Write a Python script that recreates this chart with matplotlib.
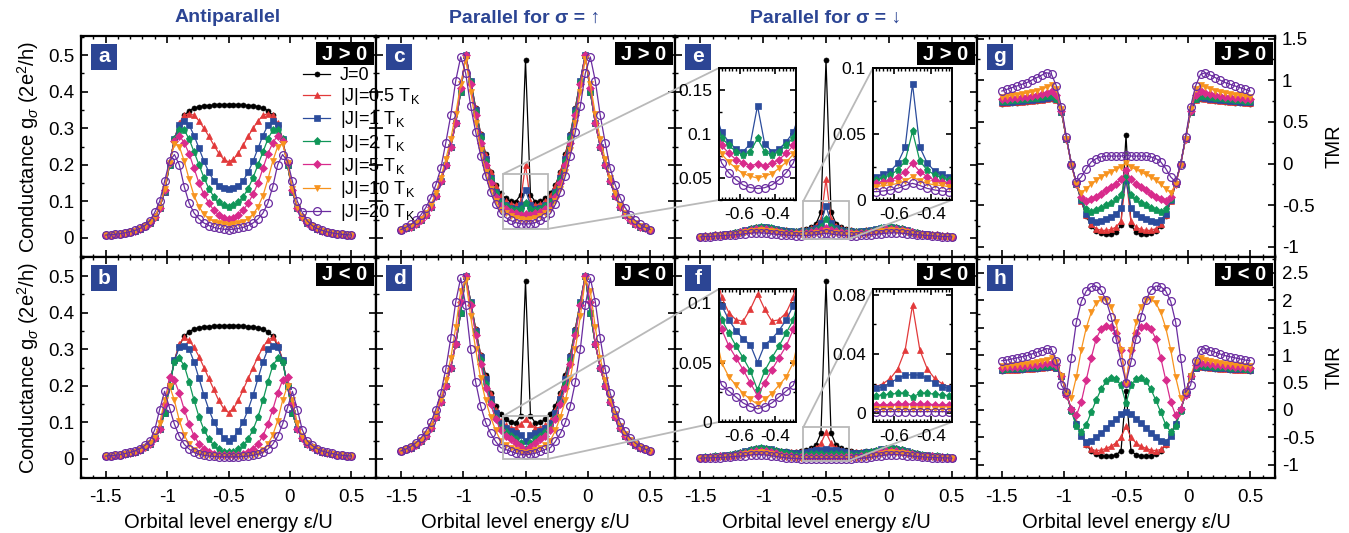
import matplotlib
matplotlib.use('Agg')
import matplotlib.pyplot as plt
from matplotlib.ticker import MultipleLocator, FuncFormatter
from matplotlib.patches import Rectangle, ConnectionPatch

plt.rcParams['font.family'] = ['Liberation Sans', 'DejaVu Sans']
plt.rcParams['mathtext.fontset'] = 'custom'
plt.rcParams['mathtext.rm'] = 'Liberation Sans'
plt.rcParams['mathtext.it'] = 'Liberation Sans:italic'
plt.rcParams['mathtext.bf'] = 'Liberation Sans:bold'

# orbital level energy eps/U
eps = [-1.50, -1.46, -1.42, -1.38, -1.34, -1.30, -1.26, -1.22, -1.18, -1.14, -1.10, -1.06, -1.02,
       -0.98, -0.94, -0.90, -0.86, -0.82, -0.78, -0.74, -0.70, -0.66, -0.62, -0.58, -0.54, -0.50,
       -0.46, -0.42, -0.38, -0.34, -0.30, -0.26, -0.22, -0.18, -0.14, -0.10, -0.06, -0.02,
       0.02, 0.06, 0.10, 0.14, 0.18, 0.22, 0.26, 0.30, 0.34, 0.38, 0.42, 0.46, 0.50]

labels = ['J=0', '|J|=0.5 T$_\\mathrm{K}$', '|J|=1 T$_\\mathrm{K}$', '|J|=2 T$_\\mathrm{K}$',
          '|J|=5 T$_\\mathrm{K}$', '|J|=10 T$_\\mathrm{K}$', '|J|=20 T$_\\mathrm{K}$']

# ---- antiparallel conductance (panels a, b) ----
ap_j0 = [0.008, 0.009, 0.010, 0.012, 0.014, 0.017, 0.020, 0.025, 0.032, 0.042, 0.057, 0.083, 0.125,
         0.200, 0.270, 0.310, 0.335, 0.348, 0.355, 0.359, 0.361, 0.362, 0.363, 0.364, 0.364, 0.364,
         0.364, 0.364, 0.363, 0.362, 0.361, 0.359, 0.355, 0.348, 0.335, 0.310, 0.270, 0.200,
         0.125, 0.083, 0.057, 0.042, 0.032, 0.025, 0.020, 0.017, 0.014, 0.012, 0.010, 0.009, 0.008]
ap_pos_05 = [0.008, 0.009, 0.010, 0.012, 0.014, 0.017, 0.020, 0.025, 0.032, 0.042, 0.057, 0.083, 0.126,
             0.200, 0.270, 0.315, 0.335, 0.340, 0.335, 0.320, 0.300, 0.278, 0.254, 0.232, 0.215, 0.208,
             0.215, 0.232, 0.254, 0.278, 0.300, 0.320, 0.335, 0.340, 0.335, 0.315, 0.270, 0.200,
             0.126, 0.083, 0.057, 0.042, 0.032, 0.025, 0.020, 0.017, 0.014, 0.012, 0.010, 0.009, 0.008]
ap_pos_1 = [0.008, 0.009, 0.010, 0.012, 0.014, 0.017, 0.020, 0.025, 0.032, 0.042, 0.057, 0.083, 0.127,
            0.200, 0.270, 0.310, 0.320, 0.308, 0.280, 0.245, 0.210, 0.180, 0.157, 0.143, 0.136, 0.133,
            0.136, 0.143, 0.157, 0.180, 0.210, 0.245, 0.280, 0.308, 0.320, 0.310, 0.270, 0.200,
            0.127, 0.083, 0.057, 0.042, 0.032, 0.025, 0.020, 0.017, 0.014, 0.012, 0.010, 0.009, 0.008]
ap_pos_2 = [0.008, 0.009, 0.010, 0.012, 0.014, 0.017, 0.020, 0.025, 0.032, 0.042, 0.057, 0.083, 0.128,
            0.200, 0.270, 0.295, 0.295, 0.270, 0.235, 0.200, 0.165, 0.135, 0.113, 0.098, 0.089, 0.086,
            0.089, 0.098, 0.113, 0.135, 0.165, 0.200, 0.235, 0.270, 0.295, 0.295, 0.270, 0.200,
            0.128, 0.083, 0.057, 0.042, 0.032, 0.025, 0.020, 0.017, 0.014, 0.012, 0.010, 0.009, 0.008]
ap_pos_5 = [0.008, 0.009, 0.010, 0.012, 0.014, 0.017, 0.020, 0.025, 0.032, 0.042, 0.057, 0.083, 0.130,
            0.205, 0.265, 0.280, 0.260, 0.230, 0.190, 0.150, 0.120, 0.095, 0.076, 0.063, 0.054, 0.051,
            0.054, 0.063, 0.076, 0.095, 0.120, 0.150, 0.190, 0.230, 0.260, 0.280, 0.265, 0.205,
            0.130, 0.083, 0.057, 0.042, 0.032, 0.025, 0.020, 0.017, 0.014, 0.012, 0.010, 0.009, 0.008]
ap_pos_10 = [0.008, 0.009, 0.010, 0.012, 0.014, 0.017, 0.020, 0.025, 0.032, 0.043, 0.058, 0.085, 0.135,
             0.205, 0.258, 0.250, 0.210, 0.160, 0.115, 0.085, 0.065, 0.053, 0.045, 0.040, 0.037, 0.036,
             0.037, 0.040, 0.045, 0.053, 0.065, 0.085, 0.115, 0.160, 0.210, 0.250, 0.258, 0.205,
             0.135, 0.085, 0.058, 0.043, 0.032, 0.025, 0.020, 0.017, 0.014, 0.012, 0.010, 0.009, 0.008]
ap_pos_20 = [0.008, 0.009, 0.010, 0.012, 0.014, 0.017, 0.021, 0.026, 0.034, 0.047, 0.070, 0.100, 0.155,
             0.210, 0.228, 0.200, 0.140, 0.095, 0.068, 0.052, 0.041, 0.034, 0.029, 0.026, 0.024, 0.023,
             0.024, 0.026, 0.029, 0.034, 0.041, 0.052, 0.068, 0.095, 0.140, 0.200, 0.228, 0.210,
             0.155, 0.100, 0.070, 0.047, 0.034, 0.026, 0.021, 0.017, 0.014, 0.012, 0.010, 0.009, 0.008]
ap_neg_05 = [0.008, 0.009, 0.010, 0.012, 0.014, 0.017, 0.020, 0.025, 0.032, 0.042, 0.057, 0.083, 0.126,
             0.200, 0.270, 0.315, 0.332, 0.325, 0.305, 0.280, 0.250, 0.220, 0.190, 0.160, 0.138, 0.127,
             0.138, 0.160, 0.190, 0.220, 0.250, 0.280, 0.305, 0.325, 0.332, 0.315, 0.270, 0.200,
             0.126, 0.083, 0.057, 0.042, 0.032, 0.025, 0.020, 0.017, 0.014, 0.012, 0.010, 0.009, 0.008]
ap_neg_1 = [0.008, 0.009, 0.010, 0.012, 0.014, 0.017, 0.020, 0.025, 0.032, 0.042, 0.057, 0.083, 0.127,
            0.200, 0.270, 0.305, 0.310, 0.300, 0.265, 0.220, 0.175, 0.135, 0.102, 0.077, 0.058, 0.048,
            0.058, 0.077, 0.102, 0.135, 0.175, 0.220, 0.265, 0.300, 0.310, 0.305, 0.270, 0.200,
            0.127, 0.083, 0.057, 0.042, 0.032, 0.025, 0.020, 0.017, 0.014, 0.012, 0.010, 0.009, 0.008]
ap_neg_2 = [0.008, 0.009, 0.010, 0.012, 0.014, 0.017, 0.020, 0.025, 0.032, 0.042, 0.057, 0.083, 0.125,
            0.200, 0.265, 0.275, 0.255, 0.210, 0.160, 0.115, 0.080, 0.055, 0.038, 0.026, 0.020, 0.018,
            0.020, 0.026, 0.038, 0.055, 0.080, 0.115, 0.160, 0.210, 0.255, 0.275, 0.265, 0.200,
            0.125, 0.083, 0.057, 0.042, 0.032, 0.025, 0.020, 0.017, 0.014, 0.012, 0.010, 0.009, 0.008]
ap_neg_5 = [0.008, 0.009, 0.010, 0.012, 0.014, 0.017, 0.020, 0.025, 0.032, 0.042, 0.057, 0.083, 0.150,
            0.225, 0.215, 0.180, 0.135, 0.095, 0.063, 0.042, 0.028, 0.019, 0.014, 0.012, 0.011, 0.010,
            0.011, 0.012, 0.014, 0.019, 0.028, 0.042, 0.063, 0.095, 0.135, 0.180, 0.215, 0.225,
            0.150, 0.083, 0.057, 0.042, 0.032, 0.025, 0.020, 0.017, 0.014, 0.012, 0.010, 0.009, 0.008]
ap_neg_10 = [0.008, 0.009, 0.010, 0.012, 0.014, 0.017, 0.020, 0.025, 0.033, 0.044, 0.062, 0.098, 0.160,
             0.200, 0.160, 0.105, 0.065, 0.040, 0.025, 0.017, 0.012, 0.010, 0.009, 0.008, 0.007, 0.007,
             0.007, 0.008, 0.009, 0.010, 0.012, 0.017, 0.025, 0.040, 0.065, 0.105, 0.160, 0.200,
             0.160, 0.098, 0.062, 0.044, 0.033, 0.025, 0.020, 0.017, 0.014, 0.012, 0.010, 0.009, 0.008]
ap_neg_20 = [0.008, 0.009, 0.010, 0.012, 0.015, 0.018, 0.022, 0.028, 0.037, 0.050, 0.080, 0.135, 0.185,
             0.140, 0.095, 0.062, 0.040, 0.027, 0.018, 0.013, 0.010, 0.008, 0.007, 0.006, 0.006, 0.006,
             0.006, 0.006, 0.007, 0.008, 0.010, 0.013, 0.018, 0.027, 0.040, 0.062, 0.095, 0.140,
             0.185, 0.135, 0.080, 0.050, 0.037, 0.028, 0.022, 0.018, 0.015, 0.012, 0.010, 0.009, 0.008]

# ---- parallel, spin up (panels c, d) ----
pu_j0 = [0.022, 0.026, 0.031, 0.038, 0.048, 0.063, 0.085, 0.115, 0.155, 0.200, 0.250, 0.315, 0.400,
         0.500, 0.430, 0.355, 0.285, 0.230, 0.180, 0.145, 0.122, 0.108, 0.100, 0.098, 0.118, 0.486,
         0.118, 0.098, 0.100, 0.108, 0.122, 0.145, 0.180, 0.230, 0.285, 0.355, 0.430, 0.500,
         0.400, 0.315, 0.250, 0.200, 0.155, 0.115, 0.085, 0.063, 0.048, 0.038, 0.031, 0.026, 0.022]
pu_pos_05 = [0.022, 0.026, 0.031, 0.038, 0.048, 0.063, 0.085, 0.115, 0.155, 0.200, 0.250, 0.315, 0.400,
             0.500, 0.430, 0.355, 0.283, 0.227, 0.180, 0.142, 0.115, 0.100, 0.092, 0.089, 0.100, 0.200,
             0.100, 0.089, 0.092, 0.100, 0.115, 0.142, 0.180, 0.227, 0.283, 0.355, 0.430, 0.500,
             0.400, 0.315, 0.250, 0.200, 0.155, 0.115, 0.085, 0.063, 0.048, 0.038, 0.031, 0.026, 0.022]
pu_pos_1 = [0.022, 0.026, 0.031, 0.038, 0.048, 0.063, 0.085, 0.115, 0.155, 0.200, 0.250, 0.315, 0.400,
            0.500, 0.430, 0.350, 0.280, 0.215, 0.165, 0.127, 0.102, 0.091, 0.083, 0.080, 0.089, 0.132,
            0.089, 0.080, 0.083, 0.091, 0.102, 0.127, 0.165, 0.215, 0.280, 0.350, 0.430, 0.500,
            0.400, 0.315, 0.250, 0.200, 0.155, 0.115, 0.085, 0.063, 0.048, 0.038, 0.031, 0.026, 0.022]
pu_pos_2 = [0.022, 0.026, 0.031, 0.038, 0.048, 0.063, 0.085, 0.115, 0.155, 0.200, 0.250, 0.315, 0.400,
            0.500, 0.425, 0.345, 0.272, 0.210, 0.160, 0.122, 0.096, 0.087, 0.080, 0.076, 0.080, 0.095,
            0.080, 0.076, 0.080, 0.087, 0.096, 0.122, 0.160, 0.210, 0.272, 0.345, 0.425, 0.500,
            0.400, 0.315, 0.250, 0.200, 0.155, 0.115, 0.085, 0.063, 0.048, 0.038, 0.031, 0.026, 0.022]
pu_pos_5 = [0.022, 0.026, 0.031, 0.038, 0.048, 0.063, 0.085, 0.115, 0.155, 0.200, 0.250, 0.315, 0.410,
            0.500, 0.420, 0.335, 0.260, 0.200, 0.150, 0.113, 0.087, 0.078, 0.071, 0.067, 0.064, 0.066,
            0.064, 0.067, 0.071, 0.078, 0.087, 0.113, 0.150, 0.200, 0.260, 0.335, 0.420, 0.500,
            0.410, 0.315, 0.250, 0.200, 0.155, 0.115, 0.085, 0.063, 0.048, 0.038, 0.031, 0.026, 0.022]
pu_pos_10 = [0.022, 0.026, 0.032, 0.040, 0.051, 0.067, 0.090, 0.123, 0.165, 0.215, 0.270, 0.340, 0.420,
             0.490, 0.400, 0.315, 0.240, 0.180, 0.135, 0.100, 0.077, 0.068, 0.061, 0.055, 0.052, 0.050,
             0.052, 0.055, 0.061, 0.068, 0.077, 0.100, 0.135, 0.180, 0.240, 0.315, 0.400, 0.490,
             0.420, 0.340, 0.270, 0.215, 0.165, 0.123, 0.090, 0.067, 0.051, 0.040, 0.032, 0.026, 0.022]
pu_pos_20 = [0.023, 0.029, 0.037, 0.048, 0.063, 0.083, 0.110, 0.145, 0.190, 0.260, 0.335, 0.430, 0.495,
             0.450, 0.360, 0.290, 0.225, 0.170, 0.125, 0.092, 0.067, 0.056, 0.048, 0.042, 0.039, 0.038,
             0.039, 0.042, 0.048, 0.056, 0.067, 0.092, 0.125, 0.170, 0.225, 0.290, 0.360, 0.450,
             0.495, 0.430, 0.335, 0.260, 0.190, 0.145, 0.110, 0.083, 0.063, 0.048, 0.037, 0.029, 0.023]
pu_neg_05 = [0.022, 0.026, 0.031, 0.038, 0.048, 0.063, 0.085, 0.115, 0.155, 0.200, 0.250, 0.315, 0.400,
             0.500, 0.430, 0.355, 0.283, 0.225, 0.178, 0.133, 0.105, 0.092, 0.086, 0.085, 0.095, 0.108,
             0.095, 0.085, 0.086, 0.092, 0.105, 0.133, 0.178, 0.225, 0.283, 0.355, 0.430, 0.500,
             0.400, 0.315, 0.250, 0.200, 0.155, 0.115, 0.085, 0.063, 0.048, 0.038, 0.031, 0.026, 0.022]
pu_neg_1 = [0.022, 0.026, 0.031, 0.038, 0.048, 0.063, 0.085, 0.115, 0.155, 0.200, 0.250, 0.315, 0.400,
            0.500, 0.430, 0.350, 0.278, 0.218, 0.165, 0.125, 0.098, 0.086, 0.077, 0.070, 0.065, 0.050,
            0.065, 0.070, 0.077, 0.086, 0.098, 0.125, 0.165, 0.218, 0.278, 0.350, 0.430, 0.500,
            0.400, 0.315, 0.250, 0.200, 0.155, 0.115, 0.085, 0.063, 0.048, 0.038, 0.031, 0.026, 0.022]
pu_neg_2 = [0.022, 0.026, 0.031, 0.038, 0.048, 0.063, 0.085, 0.115, 0.155, 0.200, 0.250, 0.315, 0.400,
            0.500, 0.425, 0.345, 0.270, 0.205, 0.152, 0.113, 0.086, 0.075, 0.064, 0.054, 0.043, 0.027,
            0.043, 0.054, 0.064, 0.075, 0.086, 0.113, 0.152, 0.205, 0.270, 0.345, 0.425, 0.500,
            0.400, 0.315, 0.250, 0.200, 0.155, 0.115, 0.085, 0.063, 0.048, 0.038, 0.031, 0.026, 0.022]
pu_neg_5 = [0.022, 0.026, 0.031, 0.038, 0.048, 0.063, 0.085, 0.115, 0.155, 0.200, 0.250, 0.315, 0.430,
            0.500, 0.420, 0.340, 0.260, 0.195, 0.150, 0.110, 0.078, 0.064, 0.054, 0.044, 0.033, 0.022,
            0.033, 0.044, 0.054, 0.064, 0.078, 0.110, 0.150, 0.195, 0.260, 0.340, 0.420, 0.500,
            0.430, 0.315, 0.250, 0.200, 0.155, 0.115, 0.085, 0.063, 0.048, 0.038, 0.031, 0.026, 0.022]
pu_neg_10 = [0.022, 0.026, 0.032, 0.040, 0.051, 0.067, 0.090, 0.123, 0.165, 0.215, 0.275, 0.360, 0.460,
             0.490, 0.390, 0.300, 0.220, 0.160, 0.115, 0.078, 0.050, 0.038, 0.031, 0.024, 0.019, 0.015,
             0.019, 0.024, 0.031, 0.038, 0.050, 0.078, 0.115, 0.160, 0.220, 0.300, 0.390, 0.490,
             0.460, 0.360, 0.275, 0.215, 0.165, 0.123, 0.090, 0.067, 0.051, 0.040, 0.032, 0.026, 0.022]
pu_neg_20 = [0.022, 0.027, 0.034, 0.044, 0.057, 0.076, 0.100, 0.135, 0.180, 0.245, 0.330, 0.430, 0.495,
             0.420, 0.300, 0.210, 0.145, 0.100, 0.070, 0.048, 0.031, 0.026, 0.021, 0.016, 0.013, 0.011,
             0.013, 0.016, 0.021, 0.026, 0.031, 0.048, 0.070, 0.100, 0.145, 0.210, 0.300, 0.420,
             0.495, 0.430, 0.330, 0.245, 0.180, 0.135, 0.100, 0.076, 0.057, 0.044, 0.034, 0.027, 0.022]

# ---- parallel, spin down (panels e, f) ----
pd_j0 = [0.004, 0.005, 0.006, 0.007, 0.008, 0.010, 0.012, 0.015, 0.018, 0.022, 0.026, 0.029, 0.031,
         0.030, 0.028, 0.025, 0.023, 0.021, 0.020, 0.020, 0.021, 0.024, 0.029, 0.038, 0.071, 0.486,
         0.071, 0.038, 0.029, 0.024, 0.021, 0.020, 0.020, 0.021, 0.023, 0.025, 0.028, 0.030,
         0.031, 0.029, 0.026, 0.022, 0.018, 0.015, 0.012, 0.010, 0.008, 0.007, 0.006, 0.005, 0.004]
pd_pos_05 = [0.004, 0.005, 0.006, 0.007, 0.008, 0.010, 0.012, 0.015, 0.018, 0.022, 0.026, 0.029, 0.031,
             0.030, 0.028, 0.025, 0.023, 0.021, 0.020, 0.020, 0.021, 0.023, 0.027, 0.034, 0.052, 0.160,
             0.052, 0.034, 0.027, 0.023, 0.021, 0.020, 0.020, 0.021, 0.023, 0.025, 0.028, 0.030,
             0.031, 0.029, 0.026, 0.022, 0.018, 0.015, 0.012, 0.010, 0.008, 0.007, 0.006, 0.005, 0.004]
pd_pos_1 = [0.004, 0.005, 0.006, 0.007, 0.008, 0.010, 0.012, 0.014, 0.017, 0.021, 0.025, 0.028, 0.030,
            0.029, 0.027, 0.024, 0.021, 0.019, 0.018, 0.0175, 0.0177, 0.0195, 0.022, 0.028, 0.040, 0.088,
            0.040, 0.028, 0.022, 0.0195, 0.0177, 0.0175, 0.018, 0.019, 0.021, 0.024, 0.027, 0.029,
            0.030, 0.028, 0.025, 0.021, 0.017, 0.014, 0.012, 0.010, 0.008, 0.007, 0.006, 0.005, 0.004]
pd_pos_2 = [0.004, 0.005, 0.006, 0.007, 0.008, 0.009, 0.011, 0.013, 0.016, 0.020, 0.024, 0.027, 0.029,
            0.028, 0.026, 0.023, 0.020, 0.017, 0.016, 0.015, 0.015, 0.017, 0.019, 0.0227, 0.0295, 0.052,
            0.0295, 0.0227, 0.019, 0.017, 0.015, 0.015, 0.016, 0.017, 0.020, 0.023, 0.026, 0.028,
            0.029, 0.027, 0.024, 0.020, 0.016, 0.013, 0.011, 0.009, 0.008, 0.007, 0.006, 0.005, 0.004]
pd_pos_5 = [0.004, 0.005, 0.006, 0.007, 0.008, 0.009, 0.010, 0.012, 0.015, 0.018, 0.021, 0.024, 0.025,
            0.024, 0.022, 0.019, 0.016, 0.014, 0.013, 0.0125, 0.0126, 0.014, 0.015, 0.0177, 0.0215, 0.028,
            0.0215, 0.0177, 0.015, 0.014, 0.0126, 0.0125, 0.013, 0.014, 0.016, 0.019, 0.022, 0.024,
            0.025, 0.024, 0.021, 0.018, 0.015, 0.012, 0.010, 0.009, 0.008, 0.007, 0.006, 0.005, 0.004]
pd_pos_10 = [0.004, 0.004, 0.005, 0.006, 0.007, 0.008, 0.009, 0.011, 0.013, 0.015, 0.018, 0.020, 0.021,
             0.020, 0.018, 0.016, 0.013, 0.011, 0.0105, 0.010, 0.010, 0.011, 0.0114, 0.0126, 0.0144, 0.0177,
             0.0144, 0.0126, 0.0114, 0.011, 0.010, 0.010, 0.0105, 0.011, 0.013, 0.016, 0.018, 0.020,
             0.021, 0.020, 0.018, 0.015, 0.013, 0.011, 0.009, 0.008, 0.007, 0.006, 0.005, 0.004, 0.004]
pd_pos_20 = [0.003, 0.004, 0.004, 0.005, 0.006, 0.007, 0.008, 0.009, 0.010, 0.012, 0.013, 0.014, 0.014,
             0.013, 0.012, 0.010, 0.009, 0.008, 0.007, 0.0065, 0.0063, 0.0068, 0.0076, 0.0088, 0.011, 0.0126,
             0.011, 0.0088, 0.0076, 0.0068, 0.0063, 0.0065, 0.007, 0.008, 0.009, 0.010, 0.012, 0.013,
             0.014, 0.014, 0.013, 0.012, 0.010, 0.009, 0.008, 0.007, 0.006, 0.005, 0.004, 0.004, 0.003]
pd_neg_05 = [0.004, 0.005, 0.006, 0.007, 0.008, 0.010, 0.012, 0.015, 0.018, 0.022, 0.026, 0.029, 0.031,
             0.030, 0.028, 0.025, 0.022, 0.020, 0.019, 0.018, 0.0178, 0.020, 0.0235, 0.030, 0.0427, 0.073,
             0.0427, 0.030, 0.0235, 0.020, 0.0178, 0.018, 0.019, 0.020, 0.022, 0.025, 0.028, 0.030,
             0.031, 0.029, 0.026, 0.022, 0.018, 0.015, 0.012, 0.010, 0.008, 0.007, 0.006, 0.005, 0.004]
pd_neg_1 = [0.004, 0.005, 0.006, 0.007, 0.008, 0.010, 0.012, 0.014, 0.017, 0.021, 0.025, 0.028, 0.030,
            0.028, 0.026, 0.023, 0.020, 0.018, 0.017, 0.0168, 0.0167, 0.0178, 0.0206, 0.0235, 0.0257, 0.026,
            0.0257, 0.0235, 0.0206, 0.0178, 0.0167, 0.0168, 0.017, 0.018, 0.020, 0.023, 0.026, 0.028,
            0.030, 0.028, 0.025, 0.021, 0.017, 0.014, 0.012, 0.010, 0.008, 0.007, 0.006, 0.005, 0.004]
pd_neg_2 = [0.004, 0.005, 0.006, 0.007, 0.008, 0.009, 0.011, 0.013, 0.016, 0.020, 0.024, 0.027, 0.029,
            0.027, 0.024, 0.021, 0.018, 0.015, 0.013, 0.012, 0.0118, 0.0122, 0.0129, 0.0133, 0.0133, 0.011,
            0.0133, 0.0133, 0.0129, 0.0122, 0.0118, 0.012, 0.013, 0.015, 0.018, 0.021, 0.024, 0.027,
            0.029, 0.027, 0.024, 0.020, 0.016, 0.013, 0.011, 0.009, 0.008, 0.007, 0.006, 0.005, 0.004]
pd_neg_5 = [0.003, 0.004, 0.005, 0.006, 0.007, 0.008, 0.009, 0.011, 0.013, 0.016, 0.019, 0.022, 0.023,
            0.021, 0.018, 0.015, 0.012, 0.009, 0.007, 0.006, 0.0056, 0.0057, 0.0058, 0.006, 0.006, 0.006,
            0.006, 0.006, 0.0058, 0.0057, 0.0056, 0.006, 0.007, 0.009, 0.012, 0.015, 0.018, 0.021,
            0.023, 0.022, 0.019, 0.016, 0.013, 0.011, 0.009, 0.008, 0.007, 0.006, 0.005, 0.004, 0.003]
pd_neg_10 = [0.003, 0.003, 0.004, 0.005, 0.005, 0.006, 0.007, 0.009, 0.011, 0.013, 0.015, 0.017, 0.018,
             0.016, 0.013, 0.010, 0.007, 0.005, 0.004, 0.003, 0.0025, 0.0025, 0.0025, 0.0025, 0.0025, 0.0025,
             0.0025, 0.0025, 0.0025, 0.0025, 0.0025, 0.003, 0.004, 0.005, 0.007, 0.010, 0.013, 0.016,
             0.018, 0.017, 0.015, 0.013, 0.011, 0.009, 0.007, 0.006, 0.005, 0.005, 0.004, 0.003, 0.003]
pd_neg_20 = [0.002, 0.003, 0.003, 0.004, 0.004, 0.005, 0.006, 0.007, 0.008, 0.009, 0.011, 0.012, 0.012,
             0.011, 0.009, 0.007, 0.005, 0.003, 0.002, 0.0015, 0.001, 0.001, 0.001, 0.001, 0.001, 0.001,
             0.001, 0.001, 0.001, 0.001, 0.001, 0.0015, 0.002, 0.003, 0.005, 0.007, 0.009, 0.011,
             0.012, 0.012, 0.011, 0.009, 0.008, 0.007, 0.006, 0.005, 0.004, 0.004, 0.003, 0.003, 0.002]

# ---- TMR (panels g, h) ----
tmr_j0 = [0.720, 0.724, 0.728, 0.732, 0.737, 0.742, 0.748, 0.755, 0.763, 0.772, 0.780, 0.760, 0.620,
          0.300, 0.000, -0.240, -0.450, -0.630, -0.750, -0.810, -0.835, -0.845, -0.840, -0.820, -0.740, 0.340,
          -0.740, -0.820, -0.840, -0.845, -0.835, -0.810, -0.750, -0.630, -0.450, -0.240, 0.000, 0.300,
          0.620, 0.760, 0.780, 0.772, 0.763, 0.755, 0.748, 0.742, 0.737, 0.732, 0.728, 0.724, 0.720]
tmr_pos_05 = [0.725, 0.729, 0.733, 0.737, 0.742, 0.747, 0.753, 0.760, 0.768, 0.777, 0.785, 0.760, 0.620,
              0.300, 0.000, -0.240, -0.450, -0.620, -0.730, -0.780, -0.800, -0.800, -0.790, -0.760, -0.690, -0.150,
              -0.690, -0.760, -0.790, -0.800, -0.800, -0.780, -0.730, -0.620, -0.450, -0.240, 0.000, 0.300,
              0.620, 0.760, 0.785, 0.777, 0.768, 0.760, 0.753, 0.747, 0.742, 0.737, 0.733, 0.729, 0.725]
tmr_pos_1 = [0.735, 0.739, 0.743, 0.748, 0.753, 0.758, 0.764, 0.771, 0.779, 0.788, 0.795, 0.770, 0.620,
             0.300, 0.000, -0.240, -0.440, -0.600, -0.680, -0.700, -0.690, -0.670, -0.640, -0.600, -0.530, -0.200,
             -0.530, -0.600, -0.640, -0.670, -0.690, -0.700, -0.680, -0.600, -0.440, -0.240, 0.000, 0.300,
             0.620, 0.770, 0.795, 0.788, 0.779, 0.771, 0.764, 0.758, 0.753, 0.748, 0.743, 0.739, 0.735]
tmr_pos_2 = [0.750, 0.755, 0.760, 0.765, 0.770, 0.776, 0.782, 0.790, 0.798, 0.808, 0.815, 0.780, 0.620,
             0.300, 0.000, -0.240, -0.420, -0.550, -0.580, -0.560, -0.530, -0.500, -0.470, -0.430, -0.380, -0.160,
             -0.380, -0.430, -0.470, -0.500, -0.530, -0.560, -0.580, -0.550, -0.420, -0.240, 0.000, 0.300,
             0.620, 0.780, 0.815, 0.808, 0.798, 0.790, 0.782, 0.776, 0.770, 0.765, 0.760, 0.755, 0.750]
tmr_pos_5 = [0.770, 0.776, 0.782, 0.789, 0.796, 0.804, 0.812, 0.822, 0.835, 0.850, 0.865, 0.820, 0.630,
             0.300, 0.000, -0.240, -0.400, -0.450, -0.430, -0.400, -0.360, -0.320, -0.280, -0.240, -0.190, -0.080,
             -0.190, -0.240, -0.280, -0.320, -0.360, -0.400, -0.430, -0.450, -0.400, -0.240, 0.000, 0.300,
             0.630, 0.820, 0.865, 0.850, 0.835, 0.822, 0.812, 0.804, 0.796, 0.789, 0.782, 0.776, 0.770]
tmr_pos_10 = [0.800, 0.808, 0.817, 0.826, 0.836, 0.847, 0.860, 0.875, 0.893, 0.915, 0.940, 0.900, 0.660,
              0.300, -0.020, -0.250, -0.350, -0.300, -0.250, -0.200, -0.160, -0.130, -0.100, -0.070, -0.040, 0.010,
              -0.040, -0.070, -0.100, -0.130, -0.160, -0.200, -0.250, -0.300, -0.350, -0.250, -0.020, 0.300,
              0.660, 0.900, 0.940, 0.915, 0.893, 0.875, 0.860, 0.847, 0.836, 0.826, 0.817, 0.808, 0.800]
tmr_pos_20 = [0.870, 0.890, 0.910, 0.930, 0.950, 0.970, 1.000, 1.030, 1.060, 1.090, 1.070, 0.930, 0.680,
              0.320, -0.020, -0.220, -0.160, -0.060, 0.020, 0.060, 0.080, 0.090, 0.090, 0.090, 0.090, 0.100,
              0.090, 0.090, 0.090, 0.090, 0.080, 0.060, 0.020, -0.060, -0.160, -0.220, -0.020, 0.320,
              0.680, 0.930, 1.070, 1.090, 1.060, 1.030, 1.000, 0.970, 0.950, 0.930, 0.910, 0.890, 0.870]
tmr_neg_05 = [0.725, 0.729, 0.733, 0.737, 0.742, 0.747, 0.753, 0.760, 0.768, 0.777, 0.785, 0.760, 0.620,
              0.300, 0.000, -0.240, -0.450, -0.620, -0.720, -0.740, -0.730, -0.700, -0.660, -0.600, -0.500, -0.290,
              -0.500, -0.600, -0.660, -0.700, -0.730, -0.740, -0.720, -0.620, -0.450, -0.240, 0.000, 0.300,
              0.620, 0.760, 0.785, 0.777, 0.768, 0.760, 0.753, 0.747, 0.742, 0.737, 0.733, 0.729, 0.725]
tmr_neg_1 = [0.735, 0.739, 0.743, 0.748, 0.753, 0.758, 0.764, 0.771, 0.779, 0.788, 0.795, 0.770, 0.620,
             0.300, 0.000, -0.250, -0.480, -0.580, -0.570, -0.500, -0.420, -0.330, -0.240, -0.160, -0.080, -0.030,
             -0.080, -0.160, -0.240, -0.330, -0.420, -0.500, -0.570, -0.580, -0.480, -0.250, 0.000, 0.300,
             0.620, 0.770, 0.795, 0.788, 0.779, 0.771, 0.764, 0.758, 0.753, 0.748, 0.743, 0.739, 0.735]
tmr_neg_2 = [0.750, 0.755, 0.760, 0.765, 0.770, 0.776, 0.782, 0.790, 0.798, 0.808, 0.815, 0.780, 0.620,
             0.300, -0.020, -0.300, -0.400, -0.270, -0.040, 0.180, 0.380, 0.520, 0.590, 0.570, 0.450, 0.120,
             0.450, 0.570, 0.590, 0.520, 0.380, 0.180, -0.040, -0.270, -0.400, -0.300, -0.020, 0.300,
             0.620, 0.780, 0.815, 0.808, 0.798, 0.790, 0.782, 0.776, 0.770, 0.765, 0.760, 0.755, 0.750]
tmr_neg_5 = [0.770, 0.776, 0.782, 0.789, 0.796, 0.804, 0.812, 0.822, 0.835, 0.850, 0.865, 0.820, 0.620,
             0.280, 0.020, -0.100, 0.150, 0.550, 0.950, 1.300, 1.480, 1.540, 1.520, 1.400, 1.100, 0.500,
             1.100, 1.400, 1.520, 1.540, 1.480, 1.300, 0.950, 0.550, 0.150, -0.100, 0.020, 0.280,
             0.620, 0.820, 0.865, 0.850, 0.835, 0.822, 0.812, 0.804, 0.796, 0.789, 0.782, 0.776, 0.770]
tmr_neg_10 = [0.800, 0.808, 0.817, 0.826, 0.836, 0.847, 0.860, 0.875, 0.893, 0.915, 0.940, 0.880, 0.620,
              0.320, 0.220, 0.600, 1.100, 1.500, 1.780, 1.950, 2.020, 2.000, 1.880, 1.600, 1.100, 0.500,
              1.100, 1.600, 1.880, 2.000, 2.020, 1.950, 1.780, 1.500, 1.100, 0.600, 0.220, 0.320,
              0.620, 0.880, 0.940, 0.915, 0.893, 0.875, 0.860, 0.847, 0.836, 0.826, 0.817, 0.808, 0.800]
tmr_neg_20 = [0.900, 0.910, 0.930, 0.950, 0.970, 0.990, 1.020, 1.050, 1.080, 1.120, 1.100, 0.900, 0.450,
              0.320, 0.950, 1.600, 1.980, 2.170, 2.250, 2.260, 2.180, 2.000, 1.700, 1.300, 0.880, 0.500,
              0.880, 1.300, 1.700, 2.000, 2.180, 2.260, 2.250, 2.170, 1.980, 1.600, 0.950, 0.320,
              0.450, 0.900, 1.100, 1.120, 1.080, 1.050, 1.020, 0.990, 0.970, 0.950, 0.930, 0.910, 0.900]

for _name, _arr in list(globals().items()):
    if _name.startswith(('ap_', 'pu_', 'pd_', 'tmr_')) and len(_arr) != len(eps):
        raise ValueError(f'{_name} has {len(_arr)} values')

panel_a = [ap_j0, ap_pos_05, ap_pos_1, ap_pos_2, ap_pos_5, ap_pos_10, ap_pos_20]
panel_b = [ap_j0, ap_neg_05, ap_neg_1, ap_neg_2, ap_neg_5, ap_neg_10, ap_neg_20]
panel_c = [pu_j0, pu_pos_05, pu_pos_1, pu_pos_2, pu_pos_5, pu_pos_10, pu_pos_20]
panel_d = [pu_j0, pu_neg_05, pu_neg_1, pu_neg_2, pu_neg_5, pu_neg_10, pu_neg_20]
panel_e = [pd_j0, pd_pos_05, pd_pos_1, pd_pos_2, pd_pos_5, pd_pos_10, pd_pos_20]
panel_f = [pd_j0, pd_neg_05, pd_neg_1, pd_neg_2, pd_neg_5, pd_neg_10, pd_neg_20]
panel_g = [tmr_j0, tmr_pos_05, tmr_pos_1, tmr_pos_2, tmr_pos_5, tmr_pos_10, tmr_pos_20]
panel_h = [tmr_j0, tmr_neg_05, tmr_neg_1, tmr_neg_2, tmr_neg_5, tmr_neg_10, tmr_neg_20]

colors = ['#000000', '#e2393a', '#2b4c9c', '#109658', '#d82b8c', '#f7931e', '#6a2ca0']
marks = ['o', '^', 's', 'p', 'D', 'v', 'o']
msizes = [3.6, 4.6, 4.6, 5.2, 3.6, 4.6, 5.6]
navy = '#2c4594'

W, H = 1349, 533
fig = plt.figure(figsize=(W / 100, H / 100), dpi=100)
cols = [81, 376, 675, 977, 1275]
rows = [36, 257, 478]
fmt = FuncFormatter(lambda v, p: f'{round(v, 6) + 0:g}')


def px_axes(l, t, r, b, **kw):
    return fig.add_axes([l / W, 1 - b / H, (r - l) / W, (b - t) / H], **kw)


def draw(ax, series, which=range(7)):
    out = []
    for k in which:
        ln, = ax.plot(eps, series[k], color=colors[k], lw=0.9, marker=marks[k], ms=msizes[k],
                      mfc='none' if k == 6 else colors[k], mec=colors[k], mew=0.9 if k == 6 else 0.5,
                      label=labels[k], clip_on=True)
        out.append(ln)
    return out


def style(ax, ylim, major, minor, xmajor=0.5, xminor=0.1, lab=13.5):
    ax.set_ylim(*ylim)
    ax.xaxis.set_major_locator(MultipleLocator(xmajor))
    ax.xaxis.set_minor_locator(MultipleLocator(xminor))
    ax.yaxis.set_major_locator(MultipleLocator(major))
    ax.yaxis.set_minor_locator(MultipleLocator(minor))
    ax.xaxis.set_major_formatter(fmt)
    ax.yaxis.set_major_formatter(fmt)
    ax.tick_params(which='both', direction='in', top=True, right=True, labelsize=lab, pad=5)
    ax.tick_params(which='major', length=5, width=1.2)
    ax.tick_params(which='minor', length=2.5, width=1.0)
    for s in ax.spines.values():
        s.set_linewidth(1.6)


def tags(c, r, letter, sign):
    l, rr, t = cols[c], cols[c + 1], rows[r]
    fig.add_artist(Rectangle(((l + 10) / W, 1 - (t + 34) / H), 26 / W, 26 / H,
                             transform=fig.transFigure, fc=navy, ec='none', zorder=6))
    fig.text((l + 23) / W, 1 - (t + 21) / H, letter, color='white', fontsize=15, fontweight='bold',
             ha='center', va='center', zorder=7)
    fig.add_artist(Rectangle(((rr - 60) / W, 1 - (t + 29) / H), 58 / W, 23 / H,
                             transform=fig.transFigure, fc='black', ec='none', zorder=6))
    fig.text((rr - 31) / W, 1 - (t + 18) / H, sign, color='white', fontsize=14.5, fontweight='bold',
             ha='center', va='center', zorder=7)


axes = {}
data = {'a': panel_a, 'b': panel_b, 'c': panel_c, 'd': panel_d,
        'e': panel_e, 'f': panel_f, 'g': panel_g, 'h': panel_h}
layout = {'a': (0, 0), 'b': (0, 1), 'c': (1, 0), 'd': (1, 1),
          'e': (2, 0), 'f': (2, 1), 'g': (3, 0), 'h': (3, 1)}
handles = None
for key, (c, r) in layout.items():
    ax = px_axes(cols[c], rows[r], cols[c + 1], rows[r + 1])
    ax.set_xlim(-1.7, 0.7)
    lines = draw(ax, data[key])
    if key == 'a':
        handles = lines
    if c < 3:
        style(ax, (-0.052, 0.552), 0.1, 0.05)
    elif key == 'g':
        style(ax, (-1.12, 1.53), 0.5, 0.25)
    else:
        style(ax, (-1.24, 2.79), 0.5, 0.25)
    if r == 0:
        ax.tick_params(labelbottom=False)
    else:
        ax.tick_params(axis='x', pad=8)
        ax.set_xlabel('Orbital level energy \u03b5/U', fontsize=14.5, labelpad=5)
    if c == 0:
        ax.set_ylabel('Conductance g$_\\sigma$ (2e$^2$/h)', fontsize=14.5, labelpad=5)
    elif c == 3:
        ax.tick_params(labelleft=False, labelright=True)
        ax.yaxis.set_label_position('right')
        ax.set_ylabel('TMR', fontsize=14.5, labelpad=7)
    else:
        ax.tick_params(labelleft=False)
    tags(c, r, key, 'J > 0' if r == 0 else 'J < 0')
    axes[key] = ax

# zoom insets
gray = '#b9b9b9'
inset_specs = [
    ('c', (719, 68, 796, 200), (0.025, 0.175), 0.05, 0.025, range(2, 7), (-0.68, 0.025, 0.36, 0.15), 'left'),
    ('e', (873, 68, 952, 200), (0.0, 0.1), 0.05, 0.025, range(2, 7), (-0.68, -0.003, 0.36, 0.104), 'right'),
    ('d', (719, 289, 796, 422), (0.0, 0.112), 0.05, 0.025, range(1, 7), (-0.68, 0.0, 0.36, 0.117), 'left'),
    ('f', (873, 289, 952, 422), (-0.006, 0.084), 0.04, 0.02, range(1, 7), (-0.68, -0.005, 0.36, 0.092), 'right'),
]
for src, box, ylim, major, minor, which, rect, side in inset_specs:
    ins = px_axes(*box, zorder=3)
    ins.set_facecolor('white')
    draw(ins, data[src], which)
    ins.set_xlim(-0.715, -0.285)
    style(ins, ylim, major, minor, xmajor=0.2, xminor=0.02, lab=12.5)
    ins.tick_params(which='major', length=4)
    ins.tick_params(which='minor', length=2)
    for s in ins.spines.values():
        s.set_linewidth(1.4)
    pax = axes[src]
    x0, y0, w, h = rect
    pax.add_patch(Rectangle((x0, y0), w, h, fill=False, ec=gray, lw=1.3, zorder=8))
    far = (0, 0) if side == 'left' else (1, 0)
    for pa, pb in [((x0, y0 + h), (0, 1)), ((x0 + w, y0), far)]:
        con = ConnectionPatch(xyA=pa, coordsA=pax.transData, xyB=pb, coordsB=ins.transAxes,
                              color=gray, lw=1.3, zorder=2)
        fig.add_artist(con)

fig.legend(handles=handles, labels=labels, loc='upper left', bbox_to_anchor=(303 / W, 1 - 67 / H),
           frameon=False, fontsize=13, handlelength=1.5, handletextpad=0.55, labelspacing=0.12,
           borderpad=0, borderaxespad=0)

title_kw = dict(ha='center', va='center', fontsize=14, fontweight='bold', color=navy)
fig.text(228 / W, 1 - 18 / H, 'Antiparallel', **title_kw)
fig.text(525 / W, 1 - 18 / H, 'Parallel for \u03c3 = \u2191', **title_kw)
fig.text(826 / W, 1 - 18 / H, 'Parallel for \u03c3 = \u2193', **title_kw)

fig.savefig('out.png', dpi=100)
